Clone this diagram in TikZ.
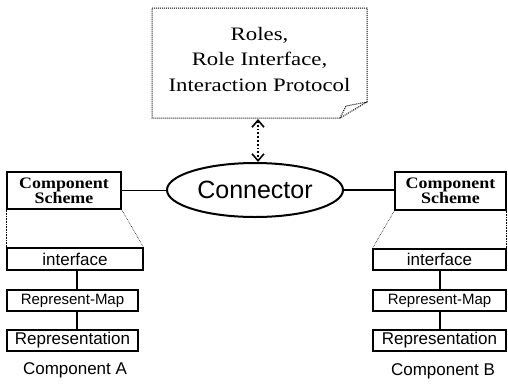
\documentclass[tikz,border=0pt]{standalone}
\usepackage{fontspec}
\usetikzlibrary{shapes.geometric,arrows.meta}
\newfontfamily\notefont[FakeStretch=1.2]{Liberation Serif}
\newfontfamily\schemefont[FakeStretch=1.12]{Liberation Serif}
\newfontfamily\arialfont{Liberation Sans}
\tikzset{
  box/.style={draw, line width=1.2pt, inner sep=0pt, anchor=center},
  schemebox/.style={box, font=\schemefont\fontsize{16}{17}\selectfont\bfseries, align=center},
  partbox/.style={box, font=\arialfont\fontsize{17}{20}\selectfont},
  mapbox/.style={box, font=\arialfont\fontsize{15}{18}\selectfont},
  zoomline/.style={densely dotted, line width=0.6pt},
  link/.style={line width=1.2pt},
  caption/.style={font=\arialfont\fontsize{17}{20}\selectfont},
  barb/.tip={Straight Barb[length=7pt,width=12pt,line width=1.6pt]},
}
\begin{document}
\begin{tikzpicture}[x=1pt, y=-1pt]
\useasboundingbox (0,0) rectangle (508,386);

% note with folded corner
\draw[densely dotted, line width=1pt] (152,8) -- (367,8) -- (367,102) -- (340,118) -- (152,118) -- cycle;
\draw[densely dotted, line width=1pt] (340,118) -- (346,106) -- (367,102);
\node (note) [align=center, font=\notefont\fontsize{19}{25.5}\selectfont] at (259.5,59) {Roles,\\Role Interface,\\Interaction Protocol};
\coordinate (notebot) at (258,119);

% connector
\node (conn) [draw, ellipse, line width=2pt, minimum width=176pt, minimum height=54pt, inner sep=0pt,
  font=\arialfont\fontsize{25}{28}\selectfont] at (255,190) {Connector};
\draw[dotted, line width=1.8pt, barb-barb] (notebot) -- (notebot |- conn.north);

% component A
\node (schA) [schemebox, minimum width=114pt, minimum height=37pt] at (64,190.5) {Component\\[-2pt]Scheme};
\node (ifA) [partbox, minimum width=136pt, minimum height=22pt] at (75,259) {interface};
\node (rmA) [mapbox, minimum width=131pt, minimum height=21pt] at (72.5,300.5) {Represent-Map};
\node (repA) [partbox, minimum width=131pt, minimum height=21pt] at (72.5,340.5) {Representation};
\node (capA) [caption] at (75,370) {Component A};
\coordinate (colA) at (77,0);
\draw[zoomline] (schA.south west) -- (ifA.north west);
\draw[zoomline] (schA.south east) -- (ifA.north east);
\draw[link] (ifA.south -| colA) -- (rmA.north -| colA);
\draw[link] (rmA.south -| colA) -- (repA.north -| colA);

% component B
\node (schB) [schemebox, minimum width=111pt, minimum height=38pt] at (450.5,191) {Component\\[-2pt]Scheme};
\node (ifB) [partbox, minimum width=133pt, minimum height=21pt] at (439.5,259.5) {interface};
\node (rmB) [mapbox, minimum width=133pt, minimum height=21pt] at (439.5,300.5) {Represent-Map};
\node (repB) [partbox, minimum width=133pt, minimum height=21pt] at (439.5,340.5) {Representation};
\node (capB) [caption] at (443,371) {Component B};
\coordinate (colB) at (440,0);
\draw[zoomline] (schB.south west) -- (ifB.north west);
\draw[zoomline] (schB.south east) -- (ifB.north east);
\draw[link] (ifB.south -| colB) -- (rmB.north -| colB);
\draw[link] (rmB.south -| colB) -- (repB.north -| colB);

% connector links
\draw[link] (schA.east) -- (schA.east -| conn.west);
\draw[link] (conn.east) -- (conn.east -| schB.west);
\end{tikzpicture}
\end{document}
